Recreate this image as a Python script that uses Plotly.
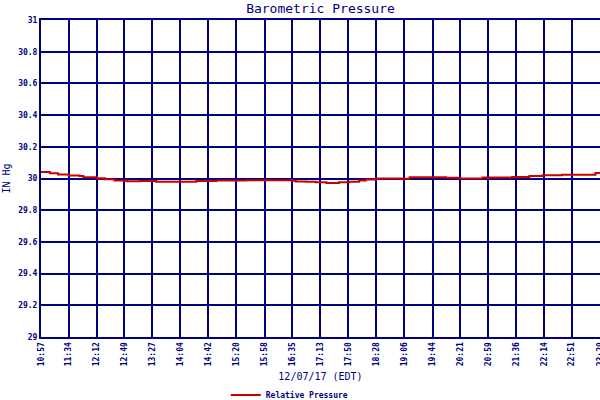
import pandas as pd
import plotly.graph_objects as go

# Data
times = ["10:57", "11:09", "11:20", "11:34", "11:49", "11:54", "12:12", "12:23", "12:36",
         "12:52", "13:10", "13:32", "14:26", "14:53", "15:33", "16:36", "16:40", "16:54",
         "17:07", "17:21", "17:38", "17:52", "18:05", "18:14", "18:28", "19:04", "19:13",
         "20:02", "20:20", "20:51", "21:31", "21:54", "22:12", "22:38", "23:23", "23:29"]
pressure = [30.041, 30.033, 30.025, 30.019, 30.016, 30.008, 30.002, 29.996, 29.987,
            29.983, 29.984, 29.980, 29.984, 29.987, 29.989, 29.986, 29.981, 29.980,
            29.977, 29.972, 29.976, 29.980, 29.987, 29.994, 30.000, 29.998, 30.008,
            30.004, 30.000, 30.006, 30.009, 30.015, 30.021, 30.023, 30.035, 30.035]
tick_labels = ["10:57", "11:34", "12:12", "12:49", "13:27", "14:04", "14:42", "15:20",
               "15:58", "16:35", "17:13", "17:50", "18:28", "19:06", "19:44", "20:21",
               "20:59", "21:36", "22:14", "22:51", "23:29"]
date = "2017-12-07"

x = pd.to_datetime([f"{date} {t}" for t in times])
tickvals = pd.to_datetime([f"{date} {t}" for t in tick_labels])

NAVY = "#000080"
RED = "#CC0000"
MONO = "DejaVu Sans Mono"

fig = go.Figure()
fig.add_trace(go.Scatter(
    x=x, y=pressure, mode="lines", line=dict(color=RED, width=2, shape="hv"),
    name="Relative Pressure"))

fig.update_layout(
    width=600, height=400,
    margin=dict(l=41, r=0, t=20, b=63, autoexpand=False),
    paper_bgcolor="white", plot_bgcolor="white",
    title=dict(text="Barometric Pressure", x=0.5, xref="paper", xanchor="center",
               y=0.98, yanchor="middle", yref="container", automargin=False,
               font=dict(family=MONO, size=13, color=NAVY)),
    showlegend=True,
    legend=dict(orientation="h", x=0.445, xanchor="center", y=-0.183, yanchor="middle",
                font=dict(family=MONO, size=8, color=NAVY, weight="bold"),
                bgcolor="rgba(0,0,0,0)"),
)
fig.update_xaxes(
    range=[tickvals[0], tickvals[-1] + pd.Timedelta(seconds=5)],
    tickvals=tickvals, ticktext=tick_labels, tickangle=-90, automargin=False,
    ticklabeloverflow="allow",
    tickfont=dict(family=MONO, size=8, color=NAVY, weight="bold"),
    showgrid=True, gridcolor=NAVY, gridwidth=2,
    showline=True, linecolor=NAVY, linewidth=2, mirror=True,
    zeroline=False, ticks="",
    title=dict(text="12/07/17 (EDT)", font=dict(family=MONO, size=10, color=NAVY), standoff=8),
)
fig.update_yaxes(
    range=[29, 31], dtick=0.2, automargin=False,
    tickfont=dict(family=MONO, size=8, color=NAVY, weight="bold"),
    showgrid=True, gridcolor=NAVY, gridwidth=2,
    showline=True, linecolor=NAVY, linewidth=2, mirror=True,
    zeroline=False, ticks="",
    title=dict(text="IN Hg", font=dict(family=MONO, size=10, color=NAVY), standoff=6),
)

fig.write_html("out.html", config={"displayModeBar": False},
               post_script="document.body.style.margin='0px';")
